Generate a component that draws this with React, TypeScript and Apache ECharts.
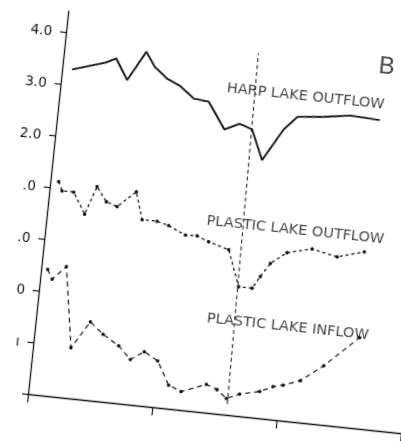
import React, { useEffect, useRef } from 'react';
import * as echarts from 'echarts';

// Harp Lake outflow (solid)
const harpX = [0.079, 0.338, 0.422, 0.526, 0.656, 0.734, 0.848, 0.955, 1.071, 1.193, 1.341, 1.458, 1.561, 1.666, 1.813, 1.913, 2.12, 2.332, 2.569];
const harpY = [6.30, 6.50, 6.60, 6.21, 6.79, 6.52, 6.31, 6.20, 5.99, 5.96, 5.46, 5.60, 5.52, 4.95, 5.58, 5.85, 5.90, 5.98, 5.95];

// Plastic Lake outflow (dotted)
const outX = [0.066, 0.101, 0.194, 0.300, 0.376, 0.463, 0.552, 0.693, 0.762, 0.882, 0.978, 1.119, 1.213, 1.31, 1.476, 1.586, 1.694, 1.75, 1.819, 1.943, 2.139, 2.344, 2.557];
const outY = [4.13, 3.96, 3.96, 3.56, 4.11, 3.84, 3.77, 4.09, 3.57, 3.57, 3.51, 3.36, 3.37, 3.28, 3.17, 2.48, 2.48, 2.72, 2.99, 3.23, 3.35, 3.25, 3.40];

// Plastic Lake inflow (dashed)
const inX = [0.052, 0.096, 0.199, 0.303, 0.436, 0.547, 0.681, 0.785, 0.89, 1.004, 1.111, 1.216, 1.411, 1.50, 1.582, 1.684, 1.841, 1.944, 2.022, 2.156, 2.329, 2.591];
const inY = [2.43, 2.25, 2.52, 0.98, 1.51, 1.30, 1.11, 0.87, 1.05, 0.90, 0.46, 0.36, 0.55, 0.47, 0.32, 0.43, 0.52, 0.64, 0.69, 0.81, 1.14, 1.75];

// Vertical reference line
const refX = [1.594, 1.548];
const refY = [0.22, 6.98];

const yTickValues = [0, 1, 2, 3, 4, 5, 6, 7];
const yTickLabels = ['', 'ı', '0', '.0', '.0', '2.0', '3.0', '4.0'];
const xTickValues = [0, 1, 2, 3];
const seriesNames = ['HARP LAKE OUTFLOW', 'PLASTIC LAKE OUTFLOW', 'PLASTIC LAKE INFLOW'];
const panelLetter = 'B';

// annotation anchors (data space)
const LABEL_ANCHORS = [[1.96, 6.27], [1.99, 3.70], [2.01, 1.84]];
const LETTER_ANCHOR = [2.58, 7.01];

const zip = (xs: number[], ys: number[]) => xs.map((x, i) => [x, ys[i]]);

export default function App() {
  const ref = useRef<HTMLDivElement>(null);
  useEffect(() => {
    const chart = echarts.init(ref.current!, null, { renderer: 'svg' });
    const ink = '#151515';
    chart.setOption({
      animation: false,
      grid: { left: 60, top: 20, width: 375, height: 385.32 },
      xAxis: {
        type: 'value', min: 0, max: 3, interval: 1,
        axisLine: { show: true, lineStyle: { color: ink, width: 1.3 } },
        axisTick: { show: true, length: 8, customValues: xTickValues, lineStyle: { color: ink, width: 1.2 } },
        axisLabel: { show: false },
        splitLine: { show: false },
      },
      yAxis: {
        type: 'value', min: 0, max: 7.41, interval: 1,
        axisLine: { show: true, lineStyle: { color: ink, width: 1.3 } },
        axisTick: { show: true, length: 6, customValues: yTickValues, lineStyle: { color: ink, width: 1.2 } },
        axisLabel: {
          customValues: yTickValues,
          formatter: (v: number) => yTickLabels[Math.round(v)] ?? '',
          margin: 14, fontSize: 13.5, fontFamily: 'DejaVu Sans', color: ink,
        },
        splitLine: { show: false },
      },
      series: [
        {
          name: seriesNames[0], type: 'line', data: zip(harpX, harpY), symbol: 'none',
          lineStyle: { color: ink, width: 1.9 },
        },
        {
          name: seriesNames[1], type: 'line', data: zip(outX, outY), symbol: 'circle', symbolSize: 3.5,
          itemStyle: { color: ink },
          lineStyle: { color: ink, width: 1.3, type: [3, 3] },
        },
        {
          name: seriesNames[2], type: 'line', data: zip(inX, inY), symbol: 'circle', symbolSize: 3.5,
          itemStyle: { color: ink },
          lineStyle: { color: ink, width: 1.2, type: [5, 4] },
        },
        {
          name: 'ref', type: 'line', data: zip(refX, refY), symbol: 'none',
          lineStyle: { color: ink, width: 1, type: [4, 3] },
        },
        {
          type: 'scatter', symbolSize: 0, silent: true, z: 5,
          data: LABEL_ANCHORS.map((p, i) => ({ value: p, name: seriesNames[i] })),
          label: { show: true, position: 'inside', formatter: '{b}', fontSize: 14.5, fontFamily: 'DejaVu Sans', color: ink },
        },
        {
          type: 'scatter', symbolSize: 0, silent: true, z: 5,
          data: [{ value: LETTER_ANCHOR, name: panelLetter }],
          label: { show: true, position: 'inside', formatter: '{b}', fontSize: 24, fontFamily: 'Liberation Sans', color: ink },
        },
      ],
    });
    return () => chart.dispose();
  }, []);
  return (
    <div
      ref={ref}
      style={{
        position: 'fixed', left: -32, top: -11.32, width: 470, height: 450,
        transform: 'rotate(6deg)', transformOrigin: '60px 405.32px',
      }}
    />
  );
}
